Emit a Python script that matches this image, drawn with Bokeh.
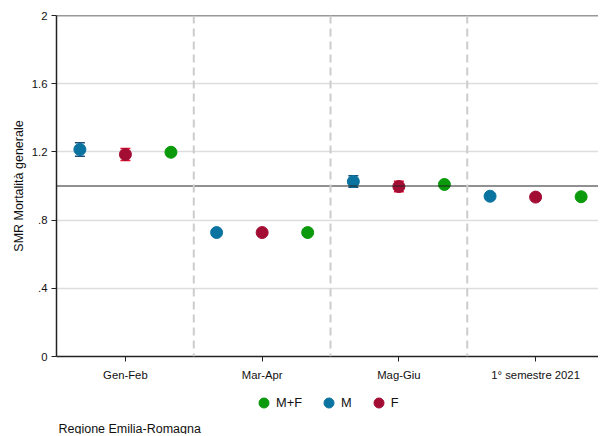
import numpy as np
from bokeh.plotting import figure
from bokeh.layouts import column
from bokeh.models import (ColumnDataSource, Span, FixedTicker, Whisker, TeeHead,
                          Legend, LegendItem, Range1d, Label)
from bokeh.embed import file_html
from bokeh.resources import INLINE

categories = ["Gen-Feb", "Mar-Apr", "Mag-Giu", "1° semestre 2021"]
smr_mf = [1.198, 0.727, 1.009, 0.937]
mf_lo = [1.180, 0.715, 0.994, 0.927]
mf_hi = [1.216, 0.739, 1.024, 0.947]
smr_m = [1.214, 0.727, 1.026, 0.940]
m_lo = [1.175, 0.712, 0.992, 0.926]
m_hi = [1.253, 0.742, 1.060, 0.954]
smr_f = [1.185, 0.727, 0.997, 0.935]
f_lo = [1.150, 0.712, 0.966, 0.921]
f_hi = [1.220, 0.742, 1.028, 0.949]
y_ticks = [0, 0.4, 0.8, 1.2, 1.6, 2]
y_tick_labels = ["0", ".4", ".8", "1.2", "1.6", "2"]
series_labels = ["M+F", "M", "F"]
footer = "Regione Emilia-Romagna"

FONT = "Liberation Sans"
C_MF = "#0b9a0b"
C_M = "#0a73a0"
C_M_BAR = "#1c4f78"
C_F = "#a30c33"
C_F_BAR = "#e8122f"

idx = list(range(1, len(categories) + 1))
OFF = 0.333

def src(vals, lo, hi, off):
    return ColumnDataSource(dict(x=[i + off for i in idx], y=vals, lo=lo, hi=hi))

s_m = src(smr_m, m_lo, m_hi, -OFF)
s_f = src(smr_f, f_lo, f_hi, 0.0)
s_mf = src(smr_mf, mf_lo, mf_hi, OFF)

p = figure(width=598, height=386, output_backend="svg", toolbar_location=None,
           x_range=Range1d(0.496, 4.46), y_range=Range1d(0, 2),
           min_border_left=56, min_border_right=0, min_border_top=15,
           min_border_bottom=30)
p.outline_line_color = None
p.background_fill_color = "white"
p.border_fill_color = "white"

# axes
p.xaxis.ticker = FixedTicker(ticks=idx)
p.xaxis.major_label_overrides = {i: c for i, c in zip(idx, categories)}
p.yaxis.ticker = FixedTicker(ticks=y_ticks)
p.yaxis.major_label_overrides = {t: l for t, l in zip(y_ticks, y_tick_labels)}
for ax in (p.xaxis, p.yaxis):
    ax.axis_line_color = "#222222"
    ax.axis_line_width = 1.5
    ax.major_tick_line_color = "#222222"
    ax.major_tick_out = 5
    ax.major_tick_in = 0
    ax.minor_tick_line_color = None
    ax.major_label_text_font = FONT
    ax.major_label_text_font_size = "11.3px"
    ax.major_label_text_color = "#111111"
p.xaxis.major_label_standoff = 7
p.yaxis.major_label_standoff = 4
p.yaxis.axis_label = "SMR Mortalità generale"
p.yaxis.axis_label_text_font = FONT
p.yaxis.axis_label_text_font_size = "12.5px"
p.yaxis.axis_label_text_font_style = "normal"
p.yaxis.axis_label_text_color = "#111111"
p.yaxis.axis_label_standoff = 3

p.xgrid.grid_line_color = None
p.ygrid.grid_line_color = "#dddddd"
p.ygrid.grid_line_width = 1.5

# top line and reference line
p.add_layout(Span(location=2, dimension="width", line_color="#333333", line_width=1.5))
p.add_layout(Span(location=1, dimension="width", line_color="#222222", line_width=1))
for d in [1.5, 2.5, 3.5]:
    p.add_layout(Span(location=d, dimension="height", line_color="#cccccc",
                      line_width=2, line_dash="8 5"))

# error bars
for s, col in [(s_m, C_M_BAR), (s_f, C_F_BAR), (s_mf, C_MF)]:
    w = Whisker(source=s, base="x", lower="lo", upper="hi", dimension="height",
                line_color=col, line_width=1.5,
                upper_head=TeeHead(size=10, line_color=col, line_width=1.5),
                lower_head=TeeHead(size=10, line_color=col, line_width=1.5))
    p.add_layout(w)

p.scatter("x", "y", source=s_m, size=12, color=C_M)
p.scatter("x", "y", source=s_f, size=12, color=C_F)
p.scatter("x", "y", source=s_mf, size=12, color=C_MF)

# bottom strip: legend + footer (frame aligned with the main plot's frame)
p2 = figure(width=598, height=48, output_backend="svg", toolbar_location=None,
            x_range=Range1d(0, 1), y_range=Range1d(0, 1),
            min_border=0, x_axis_location=None, y_axis_location=None)
p2.outline_line_color = None
p2.grid.visible = False
proxies = []
for col in [C_MF, C_M, C_F]:
    proxies.append(p2.scatter(x=np.array([np.nan]), y=np.array([np.nan]),
                              size=10, color=col))

legend = Legend(items=[LegendItem(label=l, renderers=[r])
                       for l, r in zip(series_labels, proxies)],
                orientation="horizontal", location=(195, 19),
                padding=0, margin=0, spacing=14, glyph_width=25, glyph_height=25,
                label_standoff=0, label_height=25, label_width=0,
                label_text_font=FONT, label_text_font_size="12.8px",
                label_text_color="#111111", border_line_color=None,
                background_fill_alpha=0)
p2.add_layout(legend)
p2.add_layout(Label(x=2, y=6, x_units="screen", y_units="screen", text=footer,
                    text_font=FONT, text_font_size="12.5px", text_baseline="middle",
                    text_color="#111111"))

open("out.html", "w").write(file_html(column(p, p2, spacing=0), INLINE))
